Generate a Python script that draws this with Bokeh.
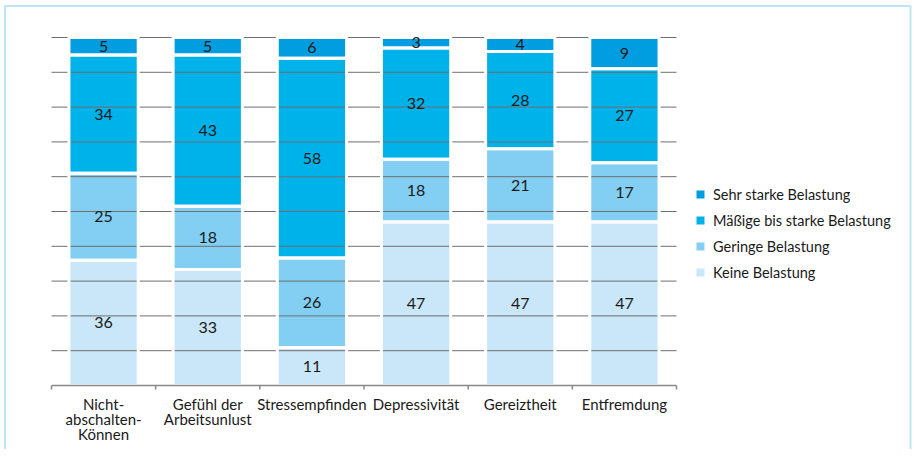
import math
from bokeh.plotting import figure
from bokeh.models import Range1d, Legend, LegendItem, ColumnDataSource, BoxAnnotation
from bokeh.embed import file_html
from bokeh.resources import INLINE
from bokeh.core.properties import value

# ---- data ----
categories = ["Nicht-\nabschalten-\nKönnen", "Gefühl der\nArbeitsunlust", "Stressempfinden",
              "Depressivität", "Gereiztheit", "Entfremdung"]
series_names = ["Keine Belastung", "Geringe Belastung", "Mäßige bis starke Belastung", "Sehr starke Belastung"]
keine = [36, 33, 11, 47, 47, 47]
geringe = [25, 18, 26, 18, 21, 17]
maessige = [34, 43, 58, 32, 28, 27]
sehr = [5, 5, 6, 3, 4, 9]
colors = ["#c9e7f8", "#82cff3", "#00b2ea", "#009ee0"]
y_grid_ticks = [10, 20, 30, 40, 50, 60, 70, 80, 90, 100]

FONT = "Lato"
W, H = 912, 449
N = len(categories)

xs = [i + 0.5 for i in range(N)]
bounds = list(range(N + 1))
series = [keine, geringe, maessige, sehr]
# each bar is drawn as 100 % (rounded shares do not always add up to exactly 100)
totals = [sum(col) for col in zip(*series)]

# the plot area spans the whole canvas; axis and legend are drawn inside it
p = figure(width=W, height=H, output_backend="svg", toolbar_location=None,
           x_range=Range1d(-0.4896, 8.2656), y_range=Range1d(-18.39, 110.63),
           min_border=0, min_border_left=0, min_border_right=0,
           min_border_top=0, min_border_bottom=0)
p.axis.visible = False
p.grid.visible = False
p.outline_line_color = None
p.background_fill_color = "white"
p.border_fill_color = "white"

bottoms = [0.0] * N
sources = []
legend_items = []
for name, vals, col in zip(series_names, series, colors):
    tops = [b + v * 100.0 / t for b, v, t in zip(bottoms, vals, totals)]
    mids = [(b + t) / 2 for b, t in zip(bottoms, tops)]
    src = ColumnDataSource(dict(x=xs, bottom=list(bottoms), top=tops, mid=mids,
                                label=[str(v) for v in vals]))
    sources.append(src)
    r = p.vbar(x="x", bottom="bottom", top="top", width=0.665, source=src,
               fill_color=col, line_color=None)
    legend_items.append(LegendItem(label=name, renderers=[r]))
    bottoms = tops

# horizontal grid lines (over the bars)
p.segment(x0=[0] * len(y_grid_ticks), x1=[N] * len(y_grid_ticks),
          y0=y_grid_ticks, y1=y_grid_ticks, line_color="#6e6e6e", line_width=1)

# white separators around every segment, then the value labels
for src in sources:
    p.vbar(x="x", bottom="bottom", top="top", width=0.665, source=src,
           fill_alpha=0, line_color="white", line_width=3)
for src in sources:
    p.text(x="x", y="mid", text="label", source=src, text_align="center",
           text_baseline="middle", text_font=value(FONT), text_font_size="16px",
           text_color="#1a1a1a")

# x axis: baseline, boundary ticks, category labels
p.segment(x0=[0], x1=[N], y0=[0], y1=[0], line_color="#888888", line_width=1.5)
p.ray(x=bounds, y=[0] * len(bounds), length=4, length_units="screen",
      angle=-math.pi / 2, line_color="#888888", line_width=1.5)
p.text(x=xs, y=[0] * N, text=categories, text_align="center", text_baseline="top",
       y_offset=9, text_font=value(FONT), text_font_size="15px", text_color="#1a1a1a",
       text_line_height=0.85)

legend = Legend(items=list(reversed(legend_items)), location=(695, 167),
                glyph_width=10, glyph_height=10, label_standoff=8,
                label_text_font=FONT, label_text_font_size="14.5px", label_text_color="#1a1a1a",
                label_height=20, spacing=6, padding=0, margin=0,
                border_line_color=None, background_fill_alpha=0)
p.add_layout(legend, "center")

# outer frame of the graphic
frame = BoxAnnotation(left=4.5, right=W - 2, top=5.5, bottom=H + 20,
                      left_units="canvas", right_units="canvas",
                      top_units="canvas", bottom_units="canvas",
                      fill_alpha=0, line_color="#27a6e2", line_width=2)
p.add_layout(frame)

open("out.html", "w").write(file_html(p, INLINE))
